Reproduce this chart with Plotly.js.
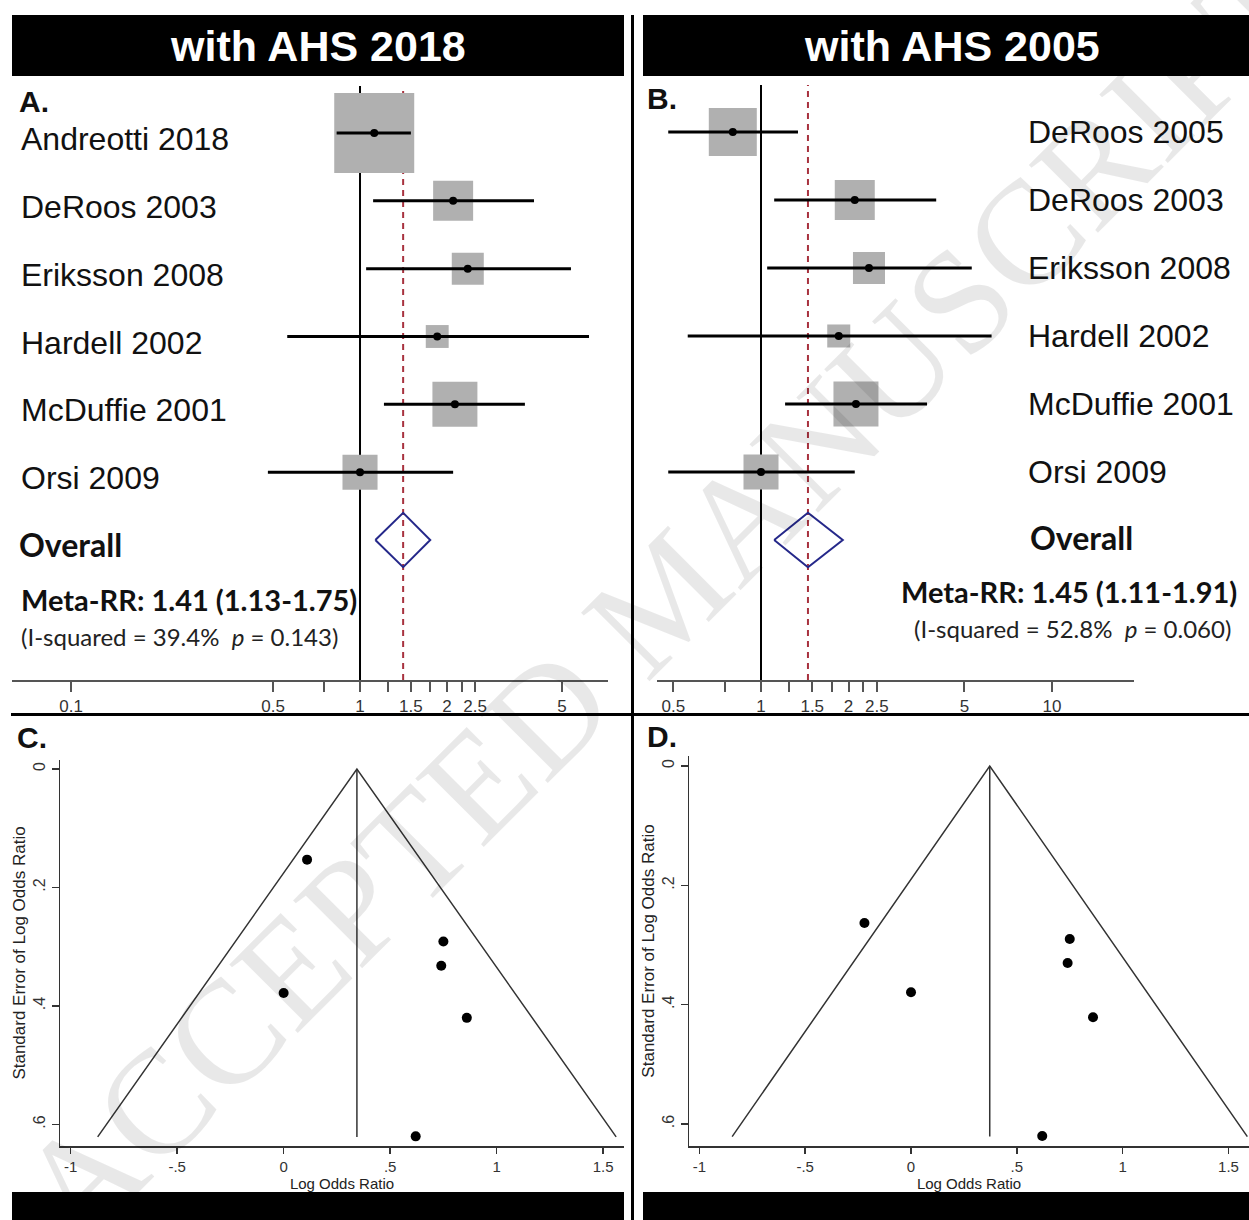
<!DOCTYPE html>
<html><head><meta charset="utf-8">
<script src="https://cdn.plot.ly/plotly-3.0.1.min.js"></script>
<style>body{margin:0;background:#fff}#chart{width:1249px;height:1220px}</style>
</head><body><div id="chart"></div>
<script>
// ---------- Data ----------
const studiesA = ['Andreotti 2018','DeRoos 2003','Eriksson 2008','Hardell 2002','McDuffie 2001','Orsi 2009'];
const rrA = [1.12, 2.10, 2.36, 1.85, 2.13, 1.00];
const loA = [0.83, 1.11, 1.05, 0.56, 1.21, 0.48];
const hiA = [1.50, 4.00, 5.37, 6.20, 3.72, 2.10];
const weightA = [50.0, 12.5, 8.0, 4.1, 15.8, 9.6];
const metaA = [1.41, 1.13, 1.75];   // estimate, lower, upper

const studiesB = ['DeRoos 2005','DeRoos 2003','Eriksson 2008','Hardell 2002','McDuffie 2001','Orsi 2009'];
const rrB = [0.80, 2.10, 2.35, 1.85, 2.12, 1.00];
const loB = [0.48, 1.11, 1.05, 0.56, 1.21, 0.48];
const hiB = [1.34, 4.00, 5.30, 6.20, 3.72, 2.10];
const weightB = [26.5, 18.4, 11.8, 6.1, 23.3, 14.1];
const metaB = [1.45, 1.11, 1.91];

const logOrC = [0.11, 0.74, 0.75, 0.00, 0.86, 0.62];
const seC    = [0.153, 0.332, 0.291, 0.378, 0.420, 0.620];
const logOrD = [-0.22, 0.74, 0.75, 0.00, 0.86, 0.62];
const seD    = [0.263, 0.330, 0.290, 0.379, 0.421, 0.620];
const funnelCenterC = 0.344, funnelCenterD = 0.372, funnelSeMax = 0.621;

const forestTickValsA = [0.1,0.5,0.75,1,1.25,1.5,1.75,2,2.25,2.5,5];
const forestTickTextA = ['0.1','0.5','','1','','1.5','','2','','2.5','5'];
const forestTickValsB = [0.5,0.75,1,1.25,1.5,1.75,2,2.25,2.5,5,10];
const forestTickTextB = ['0.5','','1','','1.5','','2','','2.5','5','10'];
const funnelTickValsX = [-1,-0.5,0,0.5,1,1.5];
const funnelTickTextX = ['-1','-.5','0','.5','1','1.5'];
const funnelTickValsY = [0,0.2,0.4,0.6];
const funnelTickTextY = ['0','.2','.4','.6'];

// ---------- Helpers ----------
const W = 1249, H = 1220;
const px = x => x / W, py = y => 1 - y / H;
const ARIAL = 'Liberation Sans, Arial, sans-serif';
const NARROW = 'Liberation Sans Narrow, Arial Narrow, Liberation Sans, sans-serif';
const CAL = 'Lato, Open Sans, sans-serif';

function forestTraces(xa, ya, studies, rr, lo, hi, w, k, meta) {
  const rows = studies.map((_, i) => i + 1);
  const t = [];
  t.push({type:'scatter', mode:'markers', x: rr, y: rows, xaxis: xa, yaxis: ya, hoverinfo:'skip',
    marker:{symbol:'square', size: w.map(v => k * Math.sqrt(v)), opacity:1, color:'#b0b0b0', line:{width:0}}});
  const cx = [], cy = [];
  rows.forEach((r, i) => { cx.push(lo[i], hi[i], null); cy.push(r, r, null); });
  t.push({type:'scatter', mode:'lines', x: cx, y: cy, xaxis: xa, yaxis: ya, hoverinfo:'skip',
    line:{color:'#000', width:3}});
  t.push({type:'scatter', mode:'markers', x: rr, y: rows, xaxis: xa, yaxis: ya, hoverinfo:'skip',
    marker:{size:8, color:'#000', opacity:1}});
  const d = studies.length + 1, h = 0.4;
  t.push({type:'scatter', mode:'lines', x:[meta[1], meta[0], meta[2], meta[0], meta[1]],
    y:[d, d - h, d, d + h, d], xaxis: xa, yaxis: ya, hoverinfo:'skip',
    line:{color:'#25288a', width:2}});
  return t;
}

function funnelTraces(xa, ya, lor, se, c, m) {
  return [
    {type:'scatter', mode:'lines', x:[c - 1.96 * m, c, c + 1.96 * m], y:[m, 0, m],
      xaxis: xa, yaxis: ya, line:{color:'#333', width:1.5}, hoverinfo:'skip'},
    {type:'scatter', mode:'lines', x:[c, c], y:[0, m], xaxis: xa, yaxis: ya,
      line:{color:'#333', width:1.5}, hoverinfo:'skip'},
    {type:'scatter', mode:'markers', x: lor, y: se, xaxis: xa, yaxis: ya,
      marker:{size:10, color:'#000', opacity:1}, hoverinfo:'skip'}
  ];
}

const data = [].concat(
  forestTraces('x', 'y', studiesA, rrA, loA, hiA, weightA, 80 / Math.sqrt(50), metaA),
  forestTraces('x2', 'y2', studiesB, rrB, loB, hiB, weightB, 48 / Math.sqrt(26.5), metaB),
  funnelTraces('x3', 'y3', logOrC, seC, funnelCenterC, funnelSeMax),
  funnelTraces('x4', 'y4', logOrD, seD, funnelCenterD, funnelSeMax)
);

const forestX = (dom, rng, tv, tt, anchor) => ({
  domain: dom, type:'log', range: rng, anchor: anchor,
  showline:true, linecolor:'#555', linewidth:2, mirror:false,
  ticks:'outside', ticklen:10, tickwidth:2, tickcolor:'#555',
  tickvals: tv, ticktext: tt, tickfont:{family: NARROW, size:17, color:'#333'},
  showgrid:false, zeroline:false, fixedrange:true
});
const hiddenY = (dom, rng, anchor) => ({domain: dom, range: rng, anchor: anchor, visible:false, fixedrange:true});
const funnelX = (dom, rng, anchor) => ({
  domain: dom, range: rng, anchor: anchor, showline:true, linecolor:'#333', linewidth:1.5,
  ticks:'outside', ticklen:6, tickwidth:1.5, tickcolor:'#333',
  tickvals: funnelTickValsX, ticktext: funnelTickTextX,
  tickfont:{family: NARROW, size:15, color:'#333'},
  title:{text:'Log Odds Ratio', font:{family: NARROW, size:15, color:'#222'}, standoff:0},
  showgrid:false, zeroline:false, fixedrange:true
});
const funnelY = (dom, rng, anchor) => ({
  domain: dom, range: rng, anchor: anchor, showline:true, linecolor:'#333', linewidth:1.5,
  ticks:'outside', ticklen:7, tickwidth:1.5, tickcolor:'#333',
  tickvals: funnelTickValsY, ticktext: funnelTickTextY, tickangle:-90,
  tickfont:{family: NARROW, size:16, color:'#333'},
  title:{text:'Standard Error of Log Odds Ratio', font:{family: NARROW, size:17, color:'#222'}, standoff:1},
  showgrid:false, zeroline:false, fixedrange:true
});

const shapes = [];
function vref(xa, ya, xv, color, width, dash) {
  shapes.push({type:'line', xref: xa, yref: ya + ' domain', x0: xv, x1: xv, y0: 0, y1: 1,
    line:{color: color, width: width, dash: dash}, layer:'below'});
}
vref('x', 'y', 1, '#000', 2, 'solid');
vref('x', 'y', metaA[0], '#a8323f', 2, '6px,5px');
vref('x2', 'y2', 1, '#000', 2, 'solid');
vref('x2', 'y2', metaB[0], '#a8323f', 2, '6px,5px');
function rect(x0, y0, x1, y1) {
  shapes.push({type:'rect', xref:'paper', yref:'paper', x0: px(x0), x1: px(x1), y0: py(y1), y1: py(y0),
    fillcolor:'#000', line:{width:0}, layer:'above'});
}
rect(12, 15, 624, 76);
rect(643, 15, 1249, 76);
rect(12, 1192, 624, 1220);
rect(643, 1192, 1249, 1220);
rect(631, 15, 634, 1220);
rect(11, 713, 1249, 716);

const ann = [];
function txt(x, y, text, size, opts) {
  ann.push(Object.assign({xref:'paper', yref:'paper', x: px(x), y: py(y), text: text, showarrow:false,
    xanchor:'left', yanchor:'middle', font:{family: ARIAL, size: size, color:'#111'}}, opts || {}));
}
// watermark (drawn first so other text sits above it)
ann.push({xref:'paper', yref:'paper', x: px(665), y: py(595), text:'ACCEPTED MANUSCRIPT', showarrow:false,
  textangle:-45, xanchor:'center', yanchor:'middle',
  font:{family:'Liberation Serif, Times New Roman, serif', size:148, color:'rgba(0,0,0,0.09)'}});
// headers
txt(318, 46, '<b>with AHS 2018</b>', 43, {xanchor:'center', font:{family: ARIAL, size:43, color:'#fff'}});
txt(952, 46, '<b>with AHS 2005</b>', 43, {xanchor:'center', font:{family: ARIAL, size:43, color:'#fff'}});
// panel letters
txt(17, 102, '<b>A.</b>', 30);
txt(645, 98, '<b>B.</b>', 30);
txt(15, 737, '<b>C.</b>', 30);
txt(645, 736, '<b>D.</b>', 30);
// study labels
studiesA.forEach((s, i) => ann.push({xref:'paper', yref:'y', x: px(19), y: i + 1, yshift:-6, text: s,
  showarrow:false, xanchor:'left', yanchor:'middle', font:{family: ARIAL, size:32, color:'#111'}}));
studiesB.forEach((s, i) => ann.push({xref:'paper', yref:'y2', x: px(1026), y: i + 1, yshift:0, text: s,
  showarrow:false, xanchor:'left', yanchor:'middle', font:{family: ARIAL, size:32, color:'#111'}}));
// overall & meta
txt(17, 544, '<b>Overall</b>', 32, {font:{family: CAL, size:32, color:'#111'}});
txt(1028, 537, '<b>Overall</b>', 32, {font:{family: CAL, size:32, color:'#111'}});
txt(19, 599, '<b>Meta-RR: ' + metaA[0].toFixed(2) + ' (' + metaA[1].toFixed(2) + '-' + metaA[2].toFixed(2) + ')</b>', 29,
  {font:{family: CAL, size:29, color:'#111'}});
txt(19, 636, '(I-squared = 39.4%  <i>p</i> = 0.143)', 24, {font:{family: CAL, size:24, color:'#222'}});
txt(1239, 591, '<b>Meta-RR: ' + metaB[0].toFixed(2) + ' (' + metaB[1].toFixed(2) + '-' + metaB[2].toFixed(2) + ')</b>', 29,
  {xanchor:'right', font:{family: CAL, size:29, color:'#111'}});
txt(1233, 628, '(I-squared = 52.8%  <i>p</i> = 0.060)', 24, {xanchor:'right', font:{family: CAL, size:24, color:'#222'}});

const layout = {
  width: W, height: H, margin:{l:0, r:0, t:0, b:0},
  paper_bgcolor:'#fff', plot_bgcolor:'rgba(0,0,0,0)', showlegend:false,
  xaxis: forestX([px(12), px(608)], [-1.2042, 0.8581], forestTickValsA, forestTickTextA, 'y'),
  yaxis: hiddenY([py(680), py(86)], [9.064, 0.307], 'x'),
  xaxis2: forestX([px(657), px(1134)], [-0.3574, 1.2818], forestTickValsB, forestTickTextB, 'y2'),
  yaxis2: hiddenY([py(680), py(85)], [9.059, 0.309], 'x2'),
  xaxis3: funnelX([px(60), px(624)], [-1.050, 1.598], 'y3'),
  yaxis3: funnelY([py(1146), py(760)], [0.6363, -0.0152], 'x3'),
  xaxis4: funnelX([px(689), 1], [-1.049, 1.597], 'y4'),
  yaxis4: funnelY([py(1146), py(756)], [0.6368, -0.0168], 'x4'),
  shapes: shapes, annotations: ann
};

Plotly.newPlot('chart', data, layout, {staticPlot:true, displayModeBar:false});
</script>
</body></html>
